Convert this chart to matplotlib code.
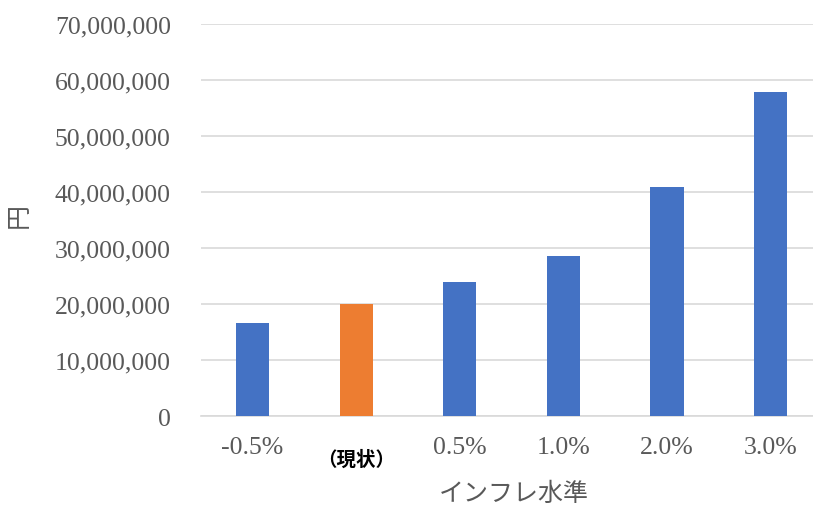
import matplotlib
matplotlib.use('Agg')
import matplotlib.pyplot as plt
from matplotlib.ticker import FuncFormatter

plt.rcParams['font.family'] = ['Liberation Serif', 'Noto Sans CJK JP']

categories = ['-0.5%', '（現状）', '0.5%', '1.0%', '2.0%', '3.0%']
values = [16.7e6, 20.0e6, 23.9e6, 28.6e6, 40.8e6, 57.9e6]
bar_colors = ['#4472C4', '#ED7D31', '#4472C4', '#4472C4', '#4472C4', '#4472C4']
y_ticks = [0, 10e6, 20e6, 30e6, 40e6, 50e6, 60e6, 70e6]

fig = plt.figure(figsize=(8.13, 5.10), dpi=100)
# plot area runs slightly past the right edge of the figure
ax = fig.add_axes([0.2469, 0.1818, 0.7646, 0.7698])

x = range(len(categories))
ax.bar(x, values, width=0.32, color=bar_colors, zorder=3)

ax.set_xlim(-0.5, len(categories) - 0.5)
ax.set_ylim(0, 70e6)
ax.set_yticks(y_ticks)
ax.yaxis.set_major_formatter(FuncFormatter(lambda v, p: f'{int(v):,}'))
ax.grid(axis='y', color='#d9d9d9', linewidth=1.2, zorder=0)

for s in ['top', 'right', 'left']:
    ax.spines[s].set_visible(False)
ax.spines['bottom'].set_color('#d9d9d9')
ax.spines['bottom'].set_linewidth(1.2)

ax.tick_params(axis='y', length=0, pad=21.5, labelsize=18.5, labelcolor='#595959')
ax.tick_params(axis='x', length=0, pad=14, labelsize=18.5, labelcolor='#595959')

ax.set_xticks(list(x))
ax.set_xticklabels(categories)

# the current-state label is set in a smaller bold gothic, a little lower
cur = ax.get_xticklabels()[1]
cur.set_fontfamily(['Noto Sans CJK JP'])
cur.set_fontsize(14)
cur.set_fontweight('bold')
cur.set_color('black')
ax.xaxis.get_major_ticks()[1].set_pad(24)

ax.set_ylabel('円', fontsize=18, color='#595959', family=['Noto Sans CJK JP'])
ax.yaxis.set_label_coords(-0.2714, 0.515)
ax.set_xlabel('インフレ水準', fontsize=18, color='#595959', family=['Noto Sans CJK JP'])
ax.xaxis.set_label_coords(0.503, -0.162)

fig.savefig('out.png', dpi=100)
